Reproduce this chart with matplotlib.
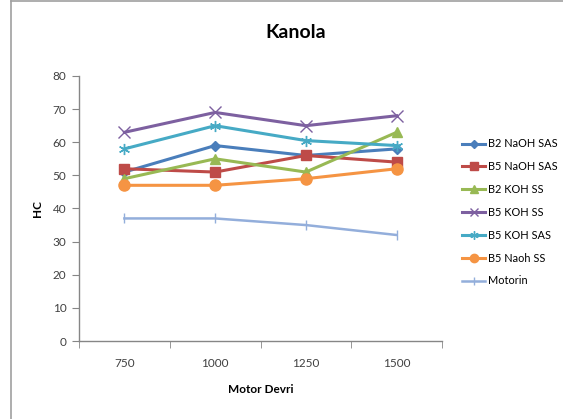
import matplotlib
matplotlib.use("Agg")
import matplotlib.pyplot as plt
from matplotlib.lines import Line2D

# Engine speed categories
rpm = ["750", "1000", "1250", "1500"]

# HC emissions per fuel blend
b2_naoh_sas = [51, 59, 56, 58]
b5_naoh_sas = [52, 51, 56, 54]
b2_koh_ss = [49, 55, 51, 63]
b5_koh_ss = [63, 69, 65, 68]
b5_koh_sas = [58, 65, 60.5, 59]
b5_naoh_ss = [47, 47, 49, 52]
motorin = [37, 37, 35, 32]

series_names = ["B2 NaOH SAS", "B5 NaOH SAS", "B2 KOH SS", "B5 KOH SS",
                "B5 KOH SAS", "B5 Naoh SS", "Motorin"]
series_values = [b2_naoh_sas, b5_naoh_sas, b2_koh_ss, b5_koh_ss,
                 b5_koh_sas, b5_naoh_ss, motorin]

styles = [
    dict(color="#4A7EBB", marker="D", ms=5.5, lw=2.2),
    dict(color="#BE4B48", marker="s", ms=7.5, lw=2.2),
    dict(color="#98B954", marker="^", ms=7.5, lw=2.2),
    dict(color="#7D60A0", marker="x", ms=8, mew=1.0, lw=2.2),
    dict(color="#46AAC5", marker=(6, 2, 0), ms=8, mew=1.0, lw=2.2),
    dict(color="#F59443", marker="o", ms=8, lw=2.2),
    dict(color="#93AEDB", marker="|", ms=7, mew=1.0, lw=1.8),
]

plt.rcParams["font.family"] = ["Lato", "DejaVu Sans"]

fig = plt.figure(figsize=(5.63, 4.19), dpi=100)
ax = fig.add_axes([79 / 563, 1 - 341 / 419, (442 - 79) / 563, (341 - 76) / 419])

x = list(range(len(rpm)))
for name, vals, st in zip(series_names, series_values, styles):
    ax.plot(x, vals, label=name, **st)

ax.set_xlim(-0.5, len(rpm) - 0.5)
ax.set_ylim(0, 80)
ax.set_yticks(range(0, 81, 10))
ax.set_xticks(x)
ax.set_xticklabels(rpm)
ax.set_xticks([i - 0.5 for i in range(len(rpm) + 1)], minor=True)
ax.tick_params(axis="x", which="major", length=0, pad=12, labelsize=8.5, colors="#404040")
ax.tick_params(axis="x", which="minor", length=5, color="#868686")
ax.tick_params(axis="y", length=5, color="#868686", labelsize=8.5, labelcolor="#404040", pad=4)

for s in ("top", "right"):
    ax.spines[s].set_visible(False)
for s in ("left", "bottom"):
    ax.spines[s].set_color("#868686")
    ax.spines[s].set_linewidth(1.0)

ax.set_xlabel("Motor Devri", fontsize=8.5, fontweight="bold", labelpad=11)
ax.set_ylabel("HC", fontsize=8.5, fontweight="bold", labelpad=7)

fig.text(296 / 563, 1 - 33 / 419, "Kanola", ha="center", va="center",
         fontsize=14, fontweight="bold")

ax.legend(loc="upper left", bbox_to_anchor=(458 / 563, 1 - 134 / 419),
          bbox_transform=fig.transFigure, frameon=False, fontsize=7.9,
          labelspacing=1.08, handlelength=2.1, handletextpad=0.2,
          borderaxespad=0, markerscale=0.75)

# chart frame
fig.add_artist(Line2D([10.5 / 563, 10.5 / 563], [0, 1 - 1.5 / 419],
                      transform=fig.transFigure, color="#A0A0A0", lw=1.2))
fig.add_artist(Line2D([10.5 / 563, 1], [1 - 1.5 / 419, 1 - 1.5 / 419],
                      transform=fig.transFigure, color="#A0A0A0", lw=1.2))

fig.savefig("out.png", dpi=100)
